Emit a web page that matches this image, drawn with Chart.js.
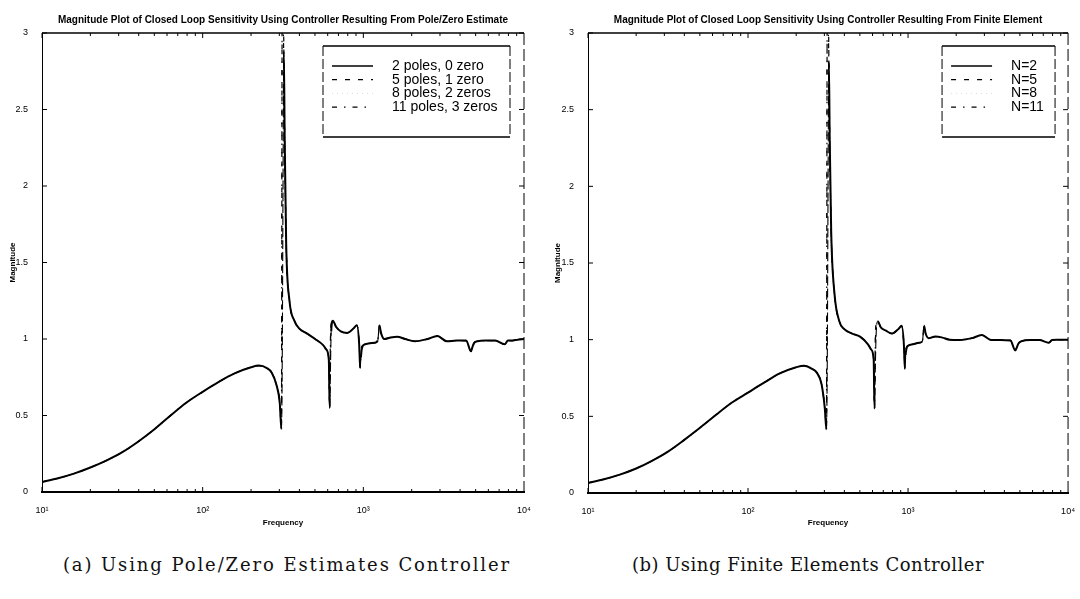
<!DOCTYPE html>
<html>
<head>
<meta charset="utf-8">
<script src="https://cdn.jsdelivr.net/npm/chart.js@4.4.1/dist/chart.umd.min.js"></script>
<style>
  body { margin: 0; background: #fff; width: 1080px; height: 599px; position: relative; overflow: hidden; }
  .panel { position: absolute; top: 0; width: 540px; height: 540px; }
  .caption { position: absolute; top: 554px; font: 18px "DejaVu Serif", serif; color: #111; white-space: nowrap; transform: translateX(-50%); }
</style>
</head>
<body>
<div class="panel" style="left:0"><canvas id="poleZero" width="540" height="540"></canvas></div>
<div class="panel" style="left:540px"><canvas id="finite" width="540" height="540"></canvas></div>
<div class="caption" style="left:287px; letter-spacing:1.9px">(a) Using Pole/Zero Estimates Controller</div>
<div class="caption" style="left:808px; letter-spacing:0.5px">(b) Using Finite Elements Controller</div>
<script>
// frequency grid (Hz), shared by every curve
const freq = [
  10, 12.6, 15.8, 20, 25.1, 31.6, 39.8, 50.1, 63.1, 79.4,
  100, 126, 158, 200, 224, 251, 269, 288, 302, 309,
  313, 316, 320, 324, 331, 347, 372, 398, 447, 501,
  562, 589, 610, 617, 624, 631, 646, 676, 724, 794,
  871, 912, 944, 955, 966, 977, 1000, 1072, 1175, 1230,
  1259, 1288, 1349, 1479, 1622, 1820, 2089, 2512, 2884, 3311,
  3802, 4365, 4677, 4786, 4898, 5129, 5754, 6607, 7586, 7943,
  8511, 9120, 10000
];

const decades = [10, 100, 1000, 10000];
const xTickLabels = ['10\u00b9', '10\u00b2', '10\u00b3', '10\u2074'];
const yTicks = [0, 0.5, 1, 1.5, 2, 2.5, 3];
const yTickLabels = ['0', '0.5', '1', '1.5', '2', '2.5', '3'];

// (a) pole/zero estimate controllers
const pzLabels = ['2 poles, 0 zero', '5 poles, 1 zero', '8 poles, 2 zeros', '11 poles, 3 zeros'];
const pz2 = [
  0.066, 0.09, 0.12, 0.16, 0.205, 0.26, 0.33, 0.41, 0.50, 0.585,
  0.655, 0.72, 0.775, 0.815, 0.826, 0.81, 0.78, 0.70, 0.58, 0.41,
  0.9, 1.9, 2.88, 2.3, 1.62, 1.25, 1.12, 1.07, 1.035, 1.0,
  0.96, 0.93, 0.86, 0.55, 0.8, 1.05, 1.12, 1.08, 1.05, 1.04,
  1.07, 1.09, 0.95, 0.81, 0.88, 0.93, 0.96, 0.97, 0.975, 0.99,
  1.09, 1.04, 1.0, 1.01, 1.015, 1.0, 0.985, 1.0, 1.02, 0.985,
  0.99, 0.99, 0.92, 0.95, 0.975, 0.985, 0.99, 0.99, 0.965, 0.99,
  0.99, 0.995, 1.0
];
const pz5 = [
  0.066, 0.09, 0.12, 0.16, 0.205, 0.26, 0.33, 0.41, 0.50, 0.585,
  0.655, 0.72, 0.775, 0.815, 0.826, 0.81, 0.78, 0.70, 0.58, 0.41,
  3.4, 3.4, 2.9, 2.3, 1.62, 1.25, 1.12, 1.07, 1.035, 1.0,
  0.96, 0.93, 0.86, 0.55, 1.0, 1.1, 1.12, 1.08, 1.05, 1.04,
  1.07, 1.09, 0.95, 0.81, 0.92, 0.95, 0.96, 0.97, 0.975, 0.99,
  1.09, 1.04, 1.0, 1.01, 1.015, 1.0, 0.985, 1.0, 1.02, 0.985,
  0.99, 0.99, 0.92, 0.95, 0.975, 0.985, 0.99, 0.99, 0.965, 0.99,
  0.99, 0.995, 1.0
];
const pz8 = [
  0.066, 0.09, 0.12, 0.16, 0.205, 0.26, 0.33, 0.41, 0.50, 0.585,
  0.655, 0.72, 0.775, 0.815, 0.826, 0.81, 0.78, 0.70, 0.58, 0.41,
  0.9, 1.9, 2.88, 2.3, 1.62, 1.25, 1.12, 1.07, 1.035, 1.0,
  0.96, 0.93, 0.86, 0.55, 0.8, 1.05, 1.12, 1.08, 1.05, 1.04,
  1.07, 1.09, 0.95, 0.81, 0.88, 0.93, 0.96, 0.97, 0.975, 0.99,
  1.09, 1.04, 1.0, 1.01, 1.015, 1.0, 0.985, 1.0, 1.02, 0.985,
  0.99, 0.99, 0.92, 0.95, 0.975, 0.985, 0.99, 0.99, 0.965, 0.99,
  0.99, 0.995, 1.0
];
const pz11 = [
  0.066, 0.09, 0.12, 0.16, 0.205, 0.26, 0.33, 0.41, 0.50, 0.585,
  0.655, 0.72, 0.775, 0.815, 0.826, 0.81, 0.78, 0.70, 0.58, 0.41,
  3.5, 3.2, 2.8, 2.3, 1.62, 1.25, 1.12, 1.07, 1.035, 1.0,
  0.96, 0.93, 0.86, 0.55, 0.95, 1.08, 1.12, 1.08, 1.05, 1.04,
  1.07, 1.09, 0.95, 0.81, 0.9, 0.94, 0.96, 0.97, 0.975, 0.99,
  1.09, 1.04, 1.0, 1.01, 1.015, 1.0, 0.985, 1.0, 1.02, 0.985,
  0.99, 0.99, 0.92, 0.95, 0.975, 0.985, 0.99, 0.99, 0.965, 0.99,
  0.99, 0.995, 1.0
];

// (b) finite element controllers
const feLabels = ['N=2', 'N=5', 'N=8', 'N=11'];
const fe2 = [
  0.066, 0.09, 0.12, 0.16, 0.21, 0.27, 0.345, 0.425, 0.51, 0.59,
  0.655, 0.72, 0.78, 0.82, 0.83, 0.81, 0.785, 0.71, 0.55, 0.415,
  0.9, 1.9, 2.82, 2.3, 1.7, 1.3, 1.12, 1.07, 1.04, 1.02,
  0.97, 0.935, 0.87, 0.55, 0.8, 1.02, 1.12, 1.08, 1.06, 1.04,
  1.07, 1.09, 0.95, 0.81, 0.9, 0.94, 0.96, 0.97, 0.98, 0.99,
  1.09, 1.04, 1.01, 1.02, 1.015, 1.0, 0.998, 1.01, 1.03, 0.998,
  0.998, 0.995, 0.93, 0.95, 0.975, 0.99, 0.998, 0.998, 0.98, 0.998,
  1.0, 1.0, 1.0
];
const fe5 = [
  0.066, 0.09, 0.12, 0.16, 0.21, 0.27, 0.345, 0.425, 0.51, 0.59,
  0.655, 0.72, 0.78, 0.82, 0.83, 0.81, 0.785, 0.71, 0.55, 0.415,
  3.4, 3.4, 2.85, 2.3, 1.7, 1.3, 1.12, 1.07, 1.04, 1.02,
  0.97, 0.935, 0.87, 0.55, 1.0, 1.1, 1.12, 1.08, 1.06, 1.04,
  1.07, 1.09, 0.95, 0.81, 0.92, 0.95, 0.96, 0.97, 0.98, 0.99,
  1.09, 1.04, 1.01, 1.02, 1.015, 1.0, 0.998, 1.01, 1.03, 0.998,
  0.998, 0.995, 0.93, 0.95, 0.975, 0.99, 0.998, 0.998, 0.98, 0.998,
  1.0, 1.0, 1.0
];
const fe8 = [
  0.066, 0.09, 0.12, 0.16, 0.21, 0.27, 0.345, 0.425, 0.51, 0.59,
  0.655, 0.72, 0.78, 0.82, 0.83, 0.81, 0.785, 0.71, 0.55, 0.415,
  0.9, 1.9, 2.82, 2.3, 1.7, 1.3, 1.12, 1.07, 1.04, 1.02,
  0.97, 0.935, 0.87, 0.55, 0.8, 1.02, 1.12, 1.08, 1.06, 1.04,
  1.07, 1.09, 0.95, 0.81, 0.9, 0.94, 0.96, 0.97, 0.98, 0.99,
  1.09, 1.04, 1.01, 1.02, 1.015, 1.0, 0.998, 1.01, 1.03, 0.998,
  0.998, 0.995, 0.93, 0.95, 0.975, 0.99, 0.998, 0.998, 0.98, 0.998,
  1.0, 1.0, 1.0
];
const fe11 = [
  0.066, 0.09, 0.12, 0.16, 0.21, 0.27, 0.345, 0.425, 0.51, 0.59,
  0.655, 0.72, 0.78, 0.82, 0.83, 0.81, 0.785, 0.71, 0.55, 0.415,
  3.5, 3.2, 2.8, 2.3, 1.7, 1.3, 1.12, 1.07, 1.04, 1.02,
  0.97, 0.935, 0.87, 0.55, 0.95, 1.08, 1.12, 1.08, 1.06, 1.04,
  1.07, 1.09, 0.95, 0.81, 0.9, 0.94, 0.96, 0.97, 0.98, 0.99,
  1.09, 1.04, 1.01, 1.02, 1.015, 1.0, 0.998, 1.01, 1.03, 0.998,
  0.998, 0.995, 0.93, 0.95, 0.975, 0.99, 0.998, 0.998, 0.98, 0.998,
  1.0, 1.0, 1.0
];

// solid, dashed, dotted, dash-dot
const strokes = [
  { color: '#000', width: 2, dash: [] },
  { color: '#000', width: 1.2, dash: [5, 8] },
  { color: 'rgba(0,0,0,0.15)', width: 1, dash: [1, 4] },
  { color: '#000', width: 1.2, dash: [5, 7, 1.5, 7] },
];

Chart.defaults.font.family = '"Liberation Sans", Arial, sans-serif';
Chart.defaults.color = '#000';

// near-vertical rising edges come out thin and broken
const steepRise = c => (c.p0.y - c.p1.y) > 6 * Math.abs(c.p1.x - c.p0.x) + 3;

// top/right edges of the box plus inward ticks
const frame = {
  id: 'frame',
  afterDatasetsDraw(chart) {
    const { ctx, chartArea: a, scales: { x, y } } = chart;
    ctx.save();
    ctx.strokeStyle = '#000';
    ctx.lineWidth = 1.5;
    ctx.beginPath();
    ctx.moveTo(a.left, a.top);
    ctx.lineTo(a.right, a.top);
    ctx.stroke();
    ctx.lineWidth = 1;
    ctx.setLineDash([12, 4]);
    ctx.beginPath();
    ctx.moveTo(a.right, a.top);
    ctx.lineTo(a.right, a.bottom);
    ctx.stroke();
    ctx.setLineDash([]);
    ctx.beginPath();
    yTicks.forEach(v => {
      const py = y.getPixelForValue(v);
      ctx.moveTo(a.left, py); ctx.lineTo(a.left + 5, py);
      ctx.moveTo(a.right, py); ctx.lineTo(a.right - 5, py);
    });
    decades.slice(0, -1).forEach(d => {
      for (let k = 1; k < 10; k++) {
        const px = x.getPixelForValue(d * k);
        const len = k === 1 ? 5 : 3;
        ctx.moveTo(px, a.bottom); ctx.lineTo(px, a.bottom - len);
        ctx.moveTo(px, a.top); ctx.lineTo(px, a.top + len);
      }
    });
    ctx.stroke();
    ctx.restore();
  }
};

// boxed legend in the upper right corner of the plot
const boxLegend = {
  id: 'boxLegend',
  afterDraw(chart, args, opts) {
    const { ctx, chartArea: a } = chart;
    const bx = a.right - opts.right - opts.width;
    const by = a.top + opts.top;
    ctx.save();
    ctx.fillStyle = '#fff';
    ctx.fillRect(bx, by, opts.width, opts.height);
    ctx.strokeStyle = '#000';
    ctx.lineWidth = 1.5;
    ctx.beginPath();
    ctx.moveTo(bx, by); ctx.lineTo(bx + opts.width, by);
    ctx.moveTo(bx, by + opts.height); ctx.lineTo(bx + opts.width, by + opts.height);
    ctx.stroke();
    ctx.lineWidth = 1;
    ctx.setLineDash([10, 3]);
    ctx.beginPath();
    ctx.moveTo(bx, by); ctx.lineTo(bx, by + opts.height);
    ctx.moveTo(bx + opts.width, by); ctx.lineTo(bx + opts.width, by + opts.height);
    ctx.stroke();
    ctx.font = '14px "Liberation Sans", Arial, sans-serif';
    ctx.textBaseline = 'middle';
    chart.data.datasets.forEach((ds, i) => {
      const ry = by + opts.firstRow + i * opts.rowGap;
      ctx.strokeStyle = ds.borderColor;
      ctx.lineWidth = Math.min(ds.borderWidth, 1.5);
      ctx.setLineDash(ds.borderDash);
      ctx.beginPath();
      ctx.moveTo(bx + 9, ry);
      ctx.lineTo(bx + 50, ry);
      ctx.stroke();
      ctx.fillStyle = '#000';
      ctx.fillText(ds.label, bx + 69, ry);
    });
    ctx.restore();
  }
};

function frequencyPlot(id, title, labels, series, box) {
  new Chart(document.getElementById(id), {
    type: 'line',
    data: {
      datasets: series.map((mag, i) => ({
        label: labels[i],
        data: freq.map((f, k) => ({ x: f, y: mag[k] })),
        borderColor: strokes[i].color,
        borderWidth: strokes[i].width,
        borderDash: strokes[i].dash,
        pointRadius: 0,
        cubicInterpolationMode: 'monotone',
        segment: i === 0 ? {
          borderWidth: c => steepRise(c) ? 1.1 : undefined,
          borderDash: c => steepRise(c) ? [9, 3] : undefined,
        } : {},
      })),
    },
    options: {
      responsive: false,
      animation: false,
      events: [],
      layout: { padding: { left: 0, right: box.padRight, top: 0, bottom: 0 } },
      plugins: {
        legend: { display: false },
        tooltip: { enabled: false },
        // not full width, so it centres over the plot box
        title: {
          display: true,
          fullSize: false,
          text: title,
          font: { size: 10, weight: 'bold' },
          padding: { top: 14, bottom: 7 },
        },
        boxLegend: { top: 13, right: box.legendRight, width: box.legendWidth, height: 91, firstRow: 20, rowGap: 13.7 },
      },
      scales: {
        x: {
          type: 'logarithmic',
          min: 10,
          max: 10000,
          afterBuildTicks: s => { s.ticks = decades.map(v => ({ value: v })); },
          afterFit: s => { s.height = box.xHeight; },
          grid: { display: false },
          border: { color: '#000', width: 2 },
          ticks: { autoSkip: false, maxRotation: 0, padding: 5, font: { size: 9 }, callback: (v, i) => xTickLabels[i] },
          title: { display: true, text: 'Frequency', font: { size: 8, weight: 'bold' }, padding: { top: 0, bottom: 12 } },
        },
        y: {
          min: 0,
          max: 3,
          afterBuildTicks: s => { s.ticks = yTicks.map(v => ({ value: v })); },
          afterFit: s => { s.width = box.yWidth; },
          grid: { display: false },
          border: { color: '#000', width: 1, dash: [12, 4] },
          ticks: { autoSkip: false, padding: 6, font: { size: 9 }, callback: (v, i) => yTickLabels[i] },
          title: { display: true, text: 'Magnitude', font: { size: 8, weight: 'bold' }, padding: { top: box.yTitlePad, bottom: 0 } },
        },
      },
    },
    plugins: [frame, boxLegend],
  });
}

frequencyPlot('poleZero',
  'Magnitude Plot of Closed Loop Sensitivity Using Controller Resulting From Pole/Zero Estimate',
  pzLabels, [pz2, pz5, pz8, pz11],
  { yWidth: 42, padRight: 16, xHeight: 48, yTitlePad: 8, legendRight: 14, legendWidth: 187 });

frequencyPlot('finite',
  'Magnitude Plot of Closed Loop Sensitivity Using Controller Resulting From Finite Element',
  feLabels, [fe2, fe5, fe8, fe11],
  { yWidth: 48, padRight: 10, xHeight: 47, yTitlePad: 13, legendRight: 13, legendWidth: 113 });
</script>
</body>
</html>
